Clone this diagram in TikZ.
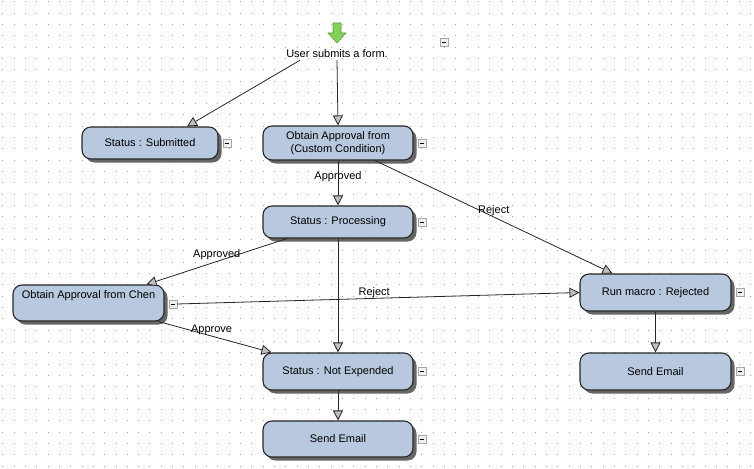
\documentclass[tikz,border=0pt]{standalone}
\usepackage{fontspec}
\setmainfont{Liberation Sans}
\usetikzlibrary{arrows.meta,shadows,calc}
\definecolor{boxblue}{RGB}{183,200,223}
\definecolor{boxedge}{RGB}{40,40,40}
\definecolor{dotgray}{RGB}{165,165,165}
\definecolor{arrowgreen}{RGB}{130,210,90}
\definecolor{arrowgreenedge}{RGB}{90,160,60}
\begin{document}
\begin{tikzpicture}[x=1pt,y=-1pt,
 box/.style={draw=boxedge, line width=1.1pt, rounded corners=9pt, fill=boxblue,
   minimum width=150pt, minimum height=34pt, inner sep=0pt,
   font=\fontsize{11}{13}\selectfont, align=center,
   drop shadow={shadow xshift=3.5pt, shadow yshift=-3.5pt, fill=black!75, opacity=0.8}},
 mbox/.style={draw=gray!70, fill=gray!12, minimum size=8pt, inner sep=0pt,
   path picture={\draw[black, line width=0.8pt]
     ([xshift=-2.2pt]path picture bounding box.center) -- ([xshift=2.2pt]path picture bounding box.center);}},
 arr/.style={draw=black!85, line width=0.8pt, -{Triangle[length=10pt,width=10pt,fill=gray!50]}},
 lbl/.style={font=\fontsize{11}{13}\selectfont, inner sep=0pt},
]
\fill[white] (0,0) rectangle (754,468);
\useasboundingbox (0,0) rectangle (754,468);
% dotted grid
\foreach \i in {0,...,66}{
  \foreach \j in {0,...,41}{
    \fill[dotgray] ({2.2+11.33*\i},{1.2+11.33*\j}) rectangle ++(1,1);
  }
}
% start marker
\draw[fill=arrowgreen, draw=arrowgreenedge, line width=0.6pt]
  (333,23) -- (341,23) -- (341,33) -- (346,33) -- (337,43) -- (328,33) -- (333,33) -- cycle;
\node[lbl, inner sep=2pt] (form) at (337,54) {User submits a form.};
\node[mbox] (mtop) at (444,42) {};

% boxes
\node[box, minimum width=136pt, minimum height=32pt] (sub) at (150,143) {Status : Submitted};
\node[box, minimum height=34pt] (obt) at (338,143) {Obtain Approval from\\(Custom Condition)};
\node[box, minimum height=32pt] (proc) at (338,222) {Status : Processing};
\node[box, minimum width=151pt, minimum height=36pt] (chen) at (88.5,303) {Obtain Approval from Chen\\\strut};
\node[box, minimum width=151pt, minimum height=37pt] (run) at (655.5,292.5) {Run macro : Rejected};
\node[box, minimum width=151pt, minimum height=37pt] (send2) at (655.5,371.5) {Send Email};
\node[box, minimum height=37pt] (notexp) at (338,371.5) {Status : Not Expended};
\node[box, minimum height=36pt] (send1) at (338,439) {Send Email};

% minus boxes
\node[mbox, anchor=west] (msub) at ([xshift=4pt]sub.east) {};
\node[mbox, anchor=west] (mobt) at ([xshift=4pt]obt.east) {};
\node[mbox, anchor=west] (mproc) at ([xshift=4pt]proc.east) {};
\node[mbox, anchor=west] (mchen) at ([xshift=4pt,yshift=-1pt]chen.east) {};
\node[mbox, anchor=west] (mrun) at ([xshift=4pt]run.east) {};
\node[mbox, anchor=west] (msend2) at ([xshift=4pt]send2.east) {};
\node[mbox, anchor=west] (mnotexp) at ([xshift=4pt]notexp.east) {};
\node[mbox, anchor=west] (msend1) at ([xshift=4pt]send1.east) {};

% connectors
\draw[arr] ([xshift=-37pt]form.south) -- ([xshift=37pt]sub.north);
\draw[arr] (form.south) -- (obt.north);
\draw[arr] (obt.south) -- node[lbl, pos=0.35]{Approved} (proc.north);
\draw[arr] ([xshift=37pt]obt.south) -- node[lbl, pos=0.5, yshift=6pt]{Reject} ([xshift=-43pt]run.north);
\draw[arr] ([xshift=-51pt]proc.south) -- node[lbl, pos=0.5, yshift=7pt]{Approved} ([xshift=58pt]chen.north);
\draw[arr] (mchen.east) -- node[lbl, pos=0.49, yshift=6pt]{Reject} (run.west);
\draw[arr] ([xshift=-6pt]chen.south east) -- node[lbl, pos=0.47, yshift=6pt]{Approve} ([xshift=9pt]notexp.north west);
\draw[arr] (proc.south) -- (notexp.north);
\draw[arr] (notexp.south) -- (send1.north);
\draw[arr] (run.south) -- (send2.north);
\end{tikzpicture}
\end{document}
